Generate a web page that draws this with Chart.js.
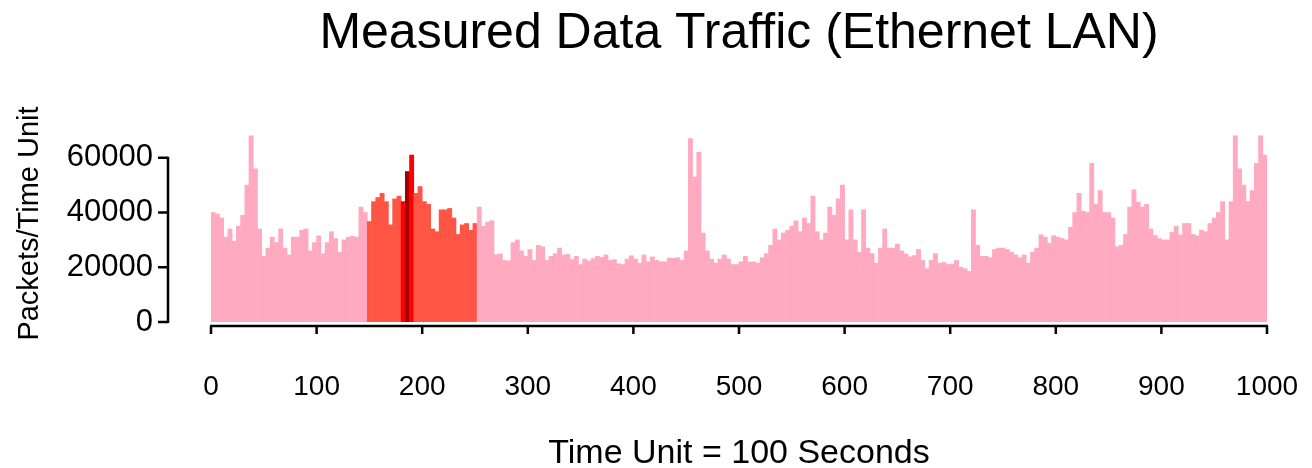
<!DOCTYPE html>
<html lang="en">
<head>
  <meta charset="UTF-8">
  <title>Measured Data Traffic (Ethernet LAN)</title>
  <script src="https://cdn.jsdelivr.net/npm/chart.js"></script>
  <style>
    html, body { margin: 0; padding: 0; background: #ffffff; }
    #wrap { width: 1312px; height: 468px; }
  </style>
</head>
<body>
  <div id="wrap"><canvas id="trafficChart"></canvas></div>

  <script>
    // each bar covers 4 time units, starting at the value below
    const binWidth = 4;
    const timeBins = Array.from({ length: 250 }, (_, i) => i * binWidth);

    // packets per time unit (one value per bin)
    const packets = [
      40000, 39500, 38000, 31000, 34000, 29500, 35000, 39000, 50000, 68000,
      56000, 34000, 24000, 27000, 31000, 29000, 34000, 27000, 24500, 31000,
      31000, 33500, 34000, 26000, 29000, 31500, 25000, 29000, 33000, 30500,
      25500, 30000, 31000, 31300, 31000, 42000, 40000, 36700, 44000, 45500,
      47000, 44000, 35500, 45000, 46000, 44000, 55000, 61000, 47000, 49500,
      44000, 43000, 34000, 33000, 41000, 41000, 41500, 38000, 32000, 35500,
      36000, 33500, 36000, 42000, 35000, 36500, 37000, 24600, 24900, 22500,
      22300, 29000, 30000, 26000, 24000, 26500, 22500, 28000, 27500, 22500,
      24000, 25000, 27000, 24500, 24700, 22800, 24000, 21000, 23000, 22300,
      23200, 24000, 23600, 24500, 22500, 22800, 21300, 21000, 23000, 24200,
      23000, 21500, 24500, 22000, 23800, 22500, 22000, 22000, 23400, 23300,
      23500, 22500, 26000, 67000, 53000, 62000, 32500, 26000, 23000, 21500,
      23000, 24500, 23000, 21000, 21000, 22000, 24000, 21900, 22000, 21500,
      23500, 25000, 28000, 34000, 30000, 32500, 33500, 35000, 37000, 33000,
      38000, 36000, 46000, 33000, 30000, 32500, 42000, 39000, 45000, 50000,
      30000, 41000, 30000, 25500, 41000, 27000, 25000, 21500, 27000, 34000,
      27000, 27000, 28500, 26000, 24800, 23800, 24300, 26500, 22500, 19500,
      22500, 25000, 21500, 21800, 21000, 21200, 22500, 20000, 19500, 18500,
      41000, 28000, 24000, 24000, 23500, 26500, 27000, 27000, 26500, 25500,
      24500, 23500, 24500, 21500, 25500, 27000, 31900, 31000, 28800, 31500,
      31000, 30500, 30000, 34600, 40000, 47000, 40500, 40000, 58000, 43000,
      48000, 40000, 40000, 38000, 27500, 28000, 32000, 42000, 48300, 43800,
      42000, 43000, 34000, 31600, 30500, 30000, 30000, 32800, 35000, 31800,
      36000, 36000, 32000, 31500, 33500, 33000, 36000, 38000, 40000, 44000,
      30000, 44000, 68000, 56000, 50000, 44000, 48000, 58000, 68000, 61000
    ];

    const yTicks = [0, 20000, 40000, 60000];
    const xTicks = [0, 100, 200, 300, 400, 500, 600, 700, 800, 900, 1000];

    // highlighted windows (time units)
    const windowOuter = [148, 252];
    const windowInner = [180, 192];
    const windowCore = [184, 188];

    const FONT = '"Liberation Sans", Arial, Helvetica, sans-serif';

    function barColour(ctx) {
      const x = ctx.raw ? ctx.raw.x : 0;
      if (x > windowCore[0] && x < windowCore[1]) return '#a00000';
      if (x > windowInner[0] && x < windowInner[1]) return '#ff0000';
      if (x > windowOuter[0] && x < windowOuter[1]) return '#ff5544';
      return '#ffaac0';
    }

    // detached axes, drawn off the chart's own scales
    const detachedAxes = {
      id: 'detachedAxes',
      afterDraw(chart) {
        const { ctx, chartArea, scales } = chart;
        const xs = scales.x, ys = scales.y;
        ctx.save();
        ctx.strokeStyle = '#000';
        ctx.lineWidth = 2.5;
        ctx.lineCap = 'butt';

        const axisX = chartArea.left - 43;
        ctx.beginPath();
        ctx.moveTo(axisX, ys.getPixelForValue(yTicks[0]) + 1);
        ctx.lineTo(axisX, ys.getPixelForValue(yTicks[yTicks.length - 1]) - 1);
        yTicks.forEach(v => {
          const py = ys.getPixelForValue(v);
          ctx.moveTo(axisX, py);
          ctx.lineTo(axisX - 10, py);
        });
        ctx.stroke();

        const axisY = ys.getPixelForValue(0) + 4;
        ctx.beginPath();
        ctx.moveTo(xs.getPixelForValue(xTicks[0]) - 1, axisY);
        ctx.lineTo(xs.getPixelForValue(xTicks[xTicks.length - 1]) + 1, axisY);
        xTicks.forEach(v => {
          const px = xs.getPixelForValue(v);
          ctx.moveTo(px, axisY);
          ctx.lineTo(px, axisY + 8);
        });
        ctx.stroke();
        ctx.restore();
      }
    };

    new Chart(document.getElementById('trafficChart'), {
      type: 'bar',
      data: {
        datasets: [{
          label: 'Packets/Time Unit',
          data: timeBins.map((t, i) => ({ x: t + binWidth / 2, y: packets[i] })),
          backgroundColor: barColour,
          borderWidth: 0,
          barPercentage: 1,
          categoryPercentage: 1
        }]
      },
      options: {
        responsive: true,
        maintainAspectRatio: false,
        animation: false,
        layout: { padding: { left: 0, right: 45, top: 0, bottom: 0 } },
        plugins: {
          legend: { display: false },
          tooltip: { enabled: false },
          title: {
            display: true,
            text: 'Measured Data Traffic (Ethernet LAN)',
            color: '#000',
            fullSize: false,
            font: { family: FONT, size: 50, weight: 'normal', lineHeight: 1.2 },
            padding: { top: 4, bottom: 61 }
          }
        },
        scales: {
          x: {
            type: 'linear',
            min: 0,
            max: 1000,
            offset: false,
            grid: { display: false, drawTicks: false, offset: false },
            border: { display: false },
            afterBuildTicks: s => { s.ticks = xTicks.map(v => ({ value: v })); },
            afterFit: s => {
              s.height = 146;
              s.paddingLeft = 0;
              s.paddingRight = 0;
            },
            ticks: {
              color: '#000',
              padding: 48,
              maxRotation: 0,
              autoSkip: false,
              font: { family: FONT, size: 28 },
              callback: v => String(v)
            },
            title: {
              display: true,
              text: 'Time Unit = 100 Seconds',
              color: '#000',
              font: { family: FONT, size: 34, lineHeight: 1 },
              padding: { top: 0, bottom: -3 }
            }
          },
          y: {
            min: 0,
            max: 72000,
            grid: { display: false, drawTicks: false },
            border: { display: false },
            afterBuildTicks: s => { s.ticks = yTicks.map(v => ({ value: v })); },
            afterFit: s => { s.width = 211; },
            ticks: {
              color: '#000',
              padding: 58,
              font: { family: FONT, size: 31 },
              callback: v => String(v)
            },
            title: {
              display: true,
              text: 'Packets/Time Unit',
              color: '#000',
              font: { family: FONT, size: 29, lineHeight: 1.2 },
              padding: { top: 13, bottom: 0 }
            }
          }
        }
      },
      plugins: [detachedAxes]
    });
  </script>
</body>
</html>
